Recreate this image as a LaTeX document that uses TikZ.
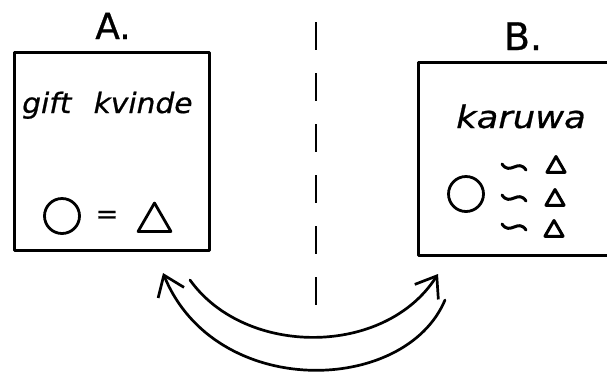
\documentclass[tikz,border=0pt]{standalone}
\usepackage{fontspec}
\setmainfont{DejaVu Sans}[FakeBold=0.7]
\usetikzlibrary{arrows.meta,shapes.geometric}
\begin{document}
\begin{tikzpicture}[x=1pt,y=-1pt,
  ink/.style={line width=2.8pt,line cap=round,line join=round},
  panel/.style={draw,ink,line width=3pt,rectangle,inner sep=0pt},
  bigring/.style={draw,ink,circle,inner sep=0pt,minimum size=35pt},
  bigtri/.style={draw,ink,regular polygon,regular polygon sides=3,inner sep=0pt,minimum size=38pt},
  smalltri/.style={draw,ink,line width=3pt,regular polygon,regular polygon sides=3,inner sep=0pt,minimum size=21pt},
  tildestroke/.style={ink,line width=3pt},
  swing/.style={ink,line width=2.7pt},
  barbtip/.style={-{Straight Barb[length=19pt,width=28pt,line width=2.7pt]}}
]
\useasboundingbox (0,0) rectangle (607,376);
\clip (0,0) rectangle (607,376);

% box A
\node[panel,minimum width=195pt,minimum height=198pt] (boxA) at (111.5,151) {};
\node[anchor=base,font=\fontsize{36}{36}\selectfont] (labA) at (113,39) {A.};
\node[anchor=base west,inner sep=0pt,font=\itshape\fontsize{28}{28}\selectfont] (txtA) at (22,113) {\scalebox{1.06}[1]{gift\hspace{0.75em}kvinde}};
\node[bigring] (ringA) at (62,216) {};
\node[inner sep=0pt,font=\fontsize{27}{27}\selectfont] (eqA) at (107,217) {=};
\node[bigtri] (triA) at (154.5,222) {};

% dashed divider
\coordinate (d1) at (316,22);
\coordinate (d2) at (316,306);
\draw[ink,line width=2.4pt,line cap=butt,dash pattern=on 28pt off 23pt] (d1) -- (d2);

% box B (right side runs off the picture)
\node[panel,minimum width=207pt,minimum height=193pt] (boxB) at (521.5,158.5) {};
\node[anchor=base,font=\fontsize{38}{38}\selectfont] (labB) at (523,50) {B.};
\node[anchor=base west,inner sep=0pt,font=\itshape\fontsize{31}{31}\selectfont] (txtB) at (456,128) {\scalebox{1.14}[1]{karuwa}};
\node[bigring] (ringB) at (466,194) {};
\foreach \yy in {167,198,227}{
  \draw[tildestroke,shift={(514,\yy)}] (-12,-3) .. controls (-4,9) and (4,-9) .. (12,3);
}
\node[smalltri] (t1) at (556,167) {};
\node[smalltri] (t2) at (555,200) {};
\node[smalltri] (t3) at (554,231) {};

% exchange arrows
\coordinate (u1) at (190,280);
\coordinate (u2) at (438,274);
\coordinate (l1) at (445,300);
\coordinate (l2) at (163,273);
\draw[swing,barbtip] (u1) .. controls (245,357) and (385,357) .. (u2);
\draw[swing,barbtip] (l1) .. controls (405,395) and (215,400) .. (l2);
\end{tikzpicture}
\end{document}
